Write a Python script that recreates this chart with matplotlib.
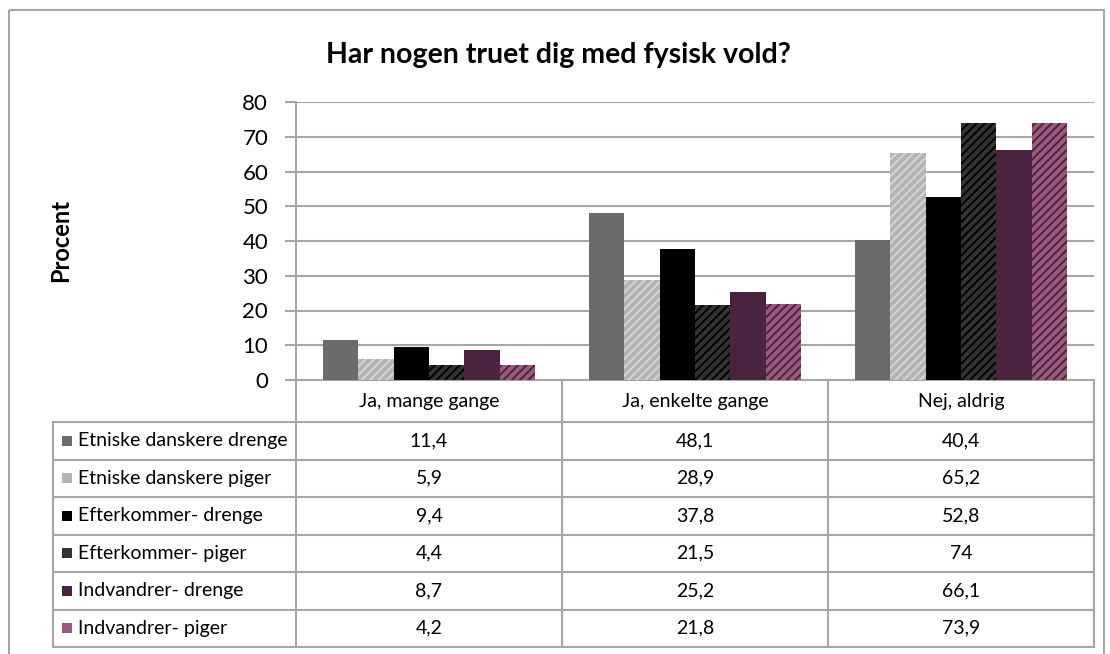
import numpy as np
import matplotlib.pyplot as plt
from matplotlib.patches import Rectangle
from matplotlib.lines import Line2D

# data
kategorier = ['Ja, mange gange', 'Ja, enkelte gange', 'Nej, aldrig']
grupper = ['Etniske danskere drenge', 'Etniske danskere piger', 'Efterkommer- drenge',
           'Efterkommer- piger', 'Indvandrer- drenge', 'Indvandrer- piger']
vaerdier = [
    [11.4, 48.1, 40.4],
    [5.9, 28.9, 65.2],
    [9.4, 37.8, 52.8],
    [4.4, 21.5, 74],
    [8.7, 25.2, 66.1],
    [4.2, 21.8, 73.9],
]
tekst = [
    ['11,4', '48,1', '40,4'],
    ['5,9', '28,9', '65,2'],
    ['9,4', '37,8', '52,8'],
    ['4,4', '21,5', '74'],
    ['8,7', '25,2', '66,1'],
    ['4,2', '21,8', '73,9'],
]

# stil
farver = ['#6b6b6b', '#b3b3b3', '#000000', '#333333', '#4a2341', '#9b5a7b']
hatch_farver = [None, '#d6d6d6', None, '#000000', None, '#4a2341']
graa = '#a6a6a6'

plt.rcParams['font.family'] = ['Lato', 'DejaVu Sans']
plt.rcParams['hatch.linewidth'] = 1.4

W, H = 1110, 654
fig = plt.figure(figsize=(W / 100, H / 100), dpi=100)

# overlay i pixel-koordinater til ramme og tabel
ov = fig.add_axes([0, 0, 1, 1], zorder=-1)
ov.set_xlim(0, W)
ov.set_ylim(H, 0)
ov.axis('off')
ov.add_patch(Rectangle((9, 10), 1095, 660, fill=False, edgecolor=graa, lw=1.5))

# plot-område
px_l, px_r, px_t, px_b = 296, 1094, 102, 380
ax = fig.add_axes([px_l / W, 1 - px_b / H, (px_r - px_l) / W, (px_b - px_t) / H])

n = len(grupper)
w = 1 / 7.5
x = np.arange(len(kategorier))
for j in range(n):
    kw = dict(color=farver[j], linewidth=0, zorder=3)
    if hatch_farver[j]:
        kw.update(hatch='////', edgecolor=hatch_farver[j])
    ax.bar(x + (j - 2.5) * w, vaerdier[j], width=w, **kw)

ax.set_xlim(-0.5, len(kategorier) - 0.5)
ax.set_ylim(0, 80)
ax.set_yticks(np.arange(0, 81, 10))
ax.set_xticks([])
ax.grid(axis='y', color=graa, linewidth=1.5)
ax.set_axisbelow(True)
for s in ['top', 'right']:
    ax.spines[s].set_visible(False)
for s in ['left', 'bottom']:
    ax.spines[s].set_color(graa)
    ax.spines[s].set_linewidth(1.5)
ax.tick_params(axis='y', length=8, width=1.5, color=graa, labelsize=16, pad=12)
ax.set_facecolor('none')

fig.text(558 / W, 1 - 55 / H, 'Har nogen truet dig med fysisk vold?',
         ha='center', va='center', fontsize=20.5, fontweight='bold')
fig.text(61 / W, 1 - 240 / H, 'Procent', rotation=90, ha='center', va='center',
         fontsize=17, fontweight='bold')

# tabel
kol = [ax.transData.transform((v, 0))[0] for v in np.arange(-0.5, len(kategorier))]
tab_l = 53
hoved_b = 422
rk = 37.5
raekker = [hoved_b + i * rk for i in range(n + 1)]
lkw = dict(color=graa, lw=1.5)
for xv in kol:
    ov.add_line(Line2D([xv, xv], [px_b, raekker[-1]], **lkw))
ov.add_line(Line2D([tab_l, tab_l], [hoved_b, raekker[-1]], **lkw))
for yv in raekker:
    ov.add_line(Line2D([tab_l, kol[-1]], [yv, yv], **lkw))

for i, k in enumerate(kategorier):
    ov.text((kol[i] + kol[i + 1]) / 2, (px_b + hoved_b) / 2, k,
            ha='center', va='center', fontsize=14)
for j in range(n):
    yc = raekker[j] + rk / 2
    nk = dict(color=farver[j], linewidth=0)
    if hatch_farver[j]:
        nk.update(hatch='////', edgecolor=hatch_farver[j])
    ov.add_patch(Rectangle((62, yc - 5), 10, 10, **nk))
    ov.text(78, yc, grupper[j], ha='left', va='center', fontsize=14)
    for i in range(len(kategorier)):
        ov.text((kol[i] + kol[i + 1]) / 2, yc, tekst[j][i],
                ha='center', va='center', fontsize=14)

fig.savefig('out.png', dpi=100)
